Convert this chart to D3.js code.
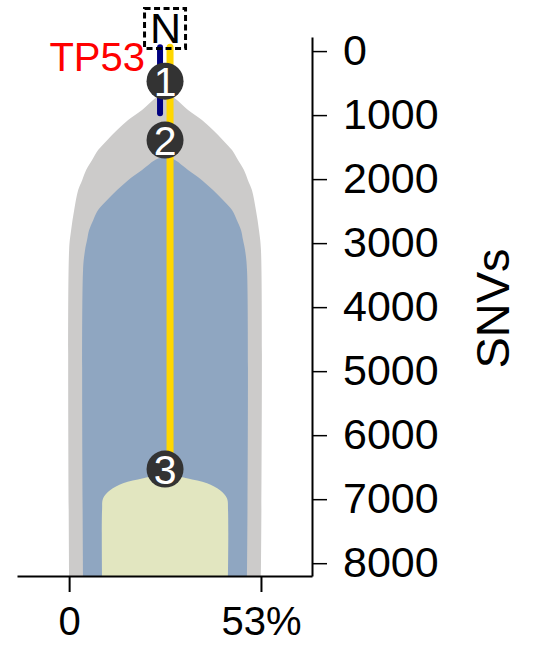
<!DOCTYPE html>
<html>
<head>
<meta charset="utf-8">
<script src="https://cdn.jsdelivr.net/npm/d3@7"></script>
<style>
  html, body { margin: 0; padding: 0; background: #fff; }
  svg { display: block; font-family: "Liberation Sans", Arial, sans-serif; }
</style>
</head>
<body>
<svg id="chart" width="533" height="646"></svg>
<script>
// ---- data ----
const snvTicks = [0, 1000, 2000, 3000, 4000, 5000, 6000, 7000, 8000];
const ccfTicks = [0, 53];
const ccfTickLabels = ["0", "53%"];
const purity = 53;

// clone 1 (grey) profile: SNV position and CCF width
const clone1Snv = [640, 766, 922, 1078, 1234, 1391, 1547, 1703, 1859, 2016, 2172, 2484, 2797, 3109, 8200];
const clone1Ccf = [0, 6.6, 12.7, 20.4, 26.5, 32.0, 37.0, 40.3, 43.6, 45.8, 48.0, 50.2, 51.9, 53, 53];
// clone 2 (blue)
const clone2Snv = [1640, 1703, 1859, 2016, 2172, 2328, 2484, 2641, 2797, 2953, 3109, 3422, 8200];
const clone2Ccf = [0, 5.5, 12.7, 20.4, 26.5, 32.0, 37.0, 39.7, 42.0, 43.1, 44.2, 45.3, 45.3];
// clone 3 (cream)
const clone3Snv = [6594, 6672, 6750, 6859, 6984, 7172, 8200];
const clone3Ccf = [0, 12.1, 23.2, 30.4, 34.2, 34.8, 34.8];

const cloneColors = ["#cccbca", "#8fa6c1", "#e2e6c0"];

const nodeLabels = ["1", "2", "3"];
const nodeSnv = [470, 1390, 6530];

const trunkSnv = [-60, 6530];     // yellow lineage line
const driverSnv = [-60, 970];     // TP53 (navy) line
const driverLabel = "TP53";
const rootLabel = "N";

// ---- layout ----
const svg = d3.select("#chart");
const x = d3.scaleLinear().domain([-14.4, 67.1]).range([17, 312]);
const y = d3.scaleLinear().domain([-220, 8200]).range([37, 576]);
const cx = x(purity / 2);

const clones = [
  clone1Snv.map((s, i) => ({ snv: s, ccf: clone1Ccf[i] })),
  clone2Snv.map((s, i) => ({ snv: s, ccf: clone2Ccf[i] })),
  clone3Snv.map((s, i) => ({ snv: s, ccf: clone3Ccf[i] }))
];

const area = d3.area()
  .y(d => y(d.snv))
  .x0(d => x(purity / 2 - d.ccf / 2))
  .x1(d => x(purity / 2 + d.ccf / 2))
  .curve(d3.curveCatmullRom.alpha(0.5));

svg.append("g").selectAll("path")
  .data(clones)
  .join("path")
  .attr("d", area)
  .attr("fill", (d, i) => cloneColors[i]);

// lineage lines
svg.append("line")
  .attr("x1", cx + 5).attr("x2", cx + 5)
  .attr("y1", y(trunkSnv[0])).attr("y2", y(trunkSnv[1]))
  .attr("stroke", "#ffd700").attr("stroke-width", 7).attr("stroke-linecap", "round");
svg.append("line")
  .attr("x1", cx - 5).attr("x2", cx - 5)
  .attr("y1", y(driverSnv[0])).attr("y2", y(driverSnv[1]))
  .attr("stroke", "#000080").attr("stroke-width", 6).attr("stroke-linecap", "round");

// driver label
svg.append("text")
  .attr("x", cx - 20).attr("y", y(driverSnv[0]) + 24)
  .attr("text-anchor", "end")
  .attr("fill", "#ff0000")
  .attr("font-size", 40)
  .text(driverLabel);

// nodes
const nodes = svg.append("g").selectAll("g")
  .data(nodeLabels)
  .join("g")
  .attr("transform", (d, i) => `translate(${cx},${y(nodeSnv[i])})`);
nodes.append("circle").attr("r", 18.5).attr("fill", "#333333");
nodes.append("text")
  .attr("text-anchor", "middle")
  .attr("dy", "0.36em")
  .attr("fill", "#ffffff")
  .attr("font-size", 41)
  .text(d => d);

// root label with dashed box
const rootG = svg.append("g");
rootG.append("rect")
  .attr("x", cx - 20.5).attr("y", 8.5)
  .attr("width", 41).attr("height", 40)
  .attr("fill", "none")
  .attr("stroke", "#000")
  .attr("stroke-width", 3)
  .attr("stroke-dasharray", "6,3.5");
rootG.append("text")
  .attr("x", cx + 0.5).attr("y", 43)
  .attr("text-anchor", "middle")
  .attr("font-size", 43)
  .attr("fill", "#000")
  .text(rootLabel);

// axes
const xAxis = d3.axisBottom(x)
  .tickValues(ccfTicks)
  .tickFormat((d, i) => ccfTickLabels[i])
  .tickSize(16).tickSizeOuter(0).tickPadding(15);
const gx = svg.append("g").attr("transform", `translate(0,${y(8200)})`).call(xAxis);
gx.select(".domain").attr("stroke-width", 2);
gx.selectAll(".tick line").attr("stroke-width", 2);
gx.selectAll(".tick text").attr("font-size", 40).attr("font-family", "Liberation Sans, Arial, sans-serif").attr("fill", "#000");

const yAxis = d3.axisRight(y)
  .tickValues(snvTicks)
  .tickFormat(d3.format("d"))
  .tickSize(15).tickSizeOuter(0).tickPadding(16);
const gy = svg.append("g").attr("transform", `translate(${x(67.1)},0)`).call(yAxis);
gy.select(".domain").attr("stroke-width", 2);
gy.selectAll(".tick line").attr("stroke-width", 1.5);
gy.selectAll(".tick text").attr("font-size", 43).attr("font-family", "Liberation Sans, Arial, sans-serif").attr("fill", "#000");

svg.append("text")
  .attr("transform", `translate(509,${(y(-220) + y(8200)) / 2 + 2}) rotate(-90)`)
  .attr("text-anchor", "middle")
  .attr("font-size", 47)
  .attr("fill", "#000")
  .text("SNVs");
</script>
</body>
</html>
